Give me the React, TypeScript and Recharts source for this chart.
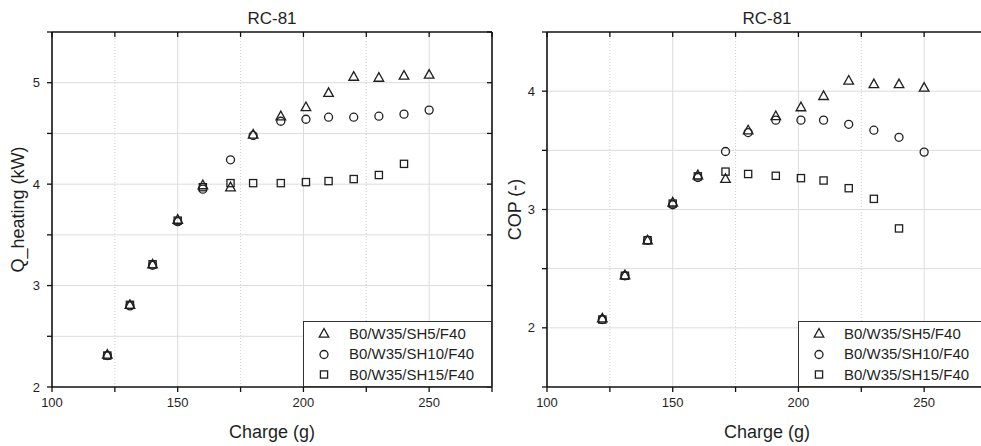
import { ScatterChart, Scatter, XAxis, YAxis, CartesianGrid, Legend } from 'recharts';

// charge values (g), shared by every series
const charge = [122, 131, 140, 150, 160, 171, 180, 191, 201, 210, 220, 230, 240, 250];

const seriesNames = ['B0/W35/SH5/F40', 'B0/W35/SH10/F40', 'B0/W35/SH15/F40'];

// Q_heating (kW)
const qSH5 = [2.32, 2.81, 3.21, 3.65, 3.99, 3.97, 4.49, 4.67, 4.76, 4.9, 5.06, 5.05, 5.07, 5.08];
const qSH10 = [2.31, 2.8, 3.2, 3.63, 3.95, 4.24, 4.48, 4.62, 4.64, 4.66, 4.66, 4.67, 4.69, 4.73];
const qSH15 = [2.31, 2.81, 3.21, 3.64, 3.97, 4.01, 4.01, 4.01, 4.02, 4.03, 4.05, 4.09, 4.2];

// COP (-)
const copSH5 = [2.08, 2.445, 2.74, 3.06, 3.29, 3.26, 3.67, 3.79, 3.865, 3.96, 4.09, 4.06, 4.06, 4.03];
const copSH10 = [2.07, 2.44, 2.74, 3.04, 3.27, 3.49, 3.65, 3.755, 3.755, 3.755, 3.72, 3.67, 3.61, 3.485];
const copSH15 = [2.07, 2.44, 2.74, 3.05, 3.28, 3.32, 3.3, 3.285, 3.265, 3.245, 3.18, 3.09, 2.84];

// axis ticks
const xTicks = [100, 125, 150, 175, 200, 225, 250, 275];
const xMajorGrid = [150, 200, 250];
const xMinorGrid = [125, 175, 225];
const qTicks = [2, 2.5, 3, 3.5, 4, 4.5, 5, 5.5];
const qGrid = [2.5, 3, 3.5, 4, 4.5, 5];
const copTicks = [1.5, 2, 2.5, 3, 3.5, 4, 4.5];
const copGrid = [2, 2.5, 3, 3.5, 4];

const INK = '#1f1f1f';
const FONT = '"Liberation Sans", Arial, sans-serif';
const axisLine = { stroke: '#111', strokeWidth: 1.6 };
const tickLine = { stroke: '#111', strokeWidth: 1.3 };

type Kind = 'triangle' | 'circle' | 'square';
const kinds: Kind[] = ['triangle', 'circle', 'square'];

const Marker = ({ kind, cx, cy }: { kind: Kind; cx: number; cy: number }) => {
    if (kind === 'triangle') {
        return (
            <polygon
                points={`${cx},${cy - 5} ${cx - 4.8},${cy + 3.6} ${cx + 4.8},${cy + 3.6}`}
                fill="none"
                stroke={INK}
                strokeWidth={1.3}
            />
        );
    }
    if (kind === 'circle') {
        return <circle cx={cx} cy={cy} r={4} fill="none" stroke={INK} strokeWidth={1.3} />;
    }
    return <rect x={cx - 3.6} y={cy - 3.6} width={7.2} height={7.2} fill="none" stroke={INK} strokeWidth={1.3} />;
};

const shapeFor = (kind: Kind) => (props: any) => <Marker kind={kind} cx={props.cx} cy={props.cy} />;

const toPoints = (values: number[]) => values.map((v, i) => ({ charge: charge[i], value: v }));

// boxed legend, in series order (recharts sorts its payload by name)
const BoxLegend = () => (
    <div
        style={{
            width: 189,
            height: 66,
            boxSizing: 'border-box',
            border: '1px solid #333',
            background: '#fff',
            paddingTop: 1,
            fontFamily: FONT,
            fontSize: 15,
            color: INK,
        }}
    >
        {seriesNames.map((name, i) => (
            <div key={name} style={{ display: 'flex', alignItems: 'center', height: 20.5, whiteSpace: 'nowrap' }}>
                <svg width={40} height={14} style={{ marginRight: 5 }}>
                    <Marker kind={kinds[i]} cx={20} cy={7.5} />
                </svg>
                <span>{name}</span>
            </div>
        ))}
    </div>
);

interface PanelProps {
    left: number;
    yLabel: string;
    yLabelOffset: number;
    yDomain: [number, number];
    yTicks: number[];
    yGrid: number[];
    series: number[][];
}

const Panel = ({ left, yLabel, yLabelOffset, yDomain, yTicks, yGrid, series }: PanelProps) => {
    const xFmt = (v: number) => (v % 50 === 0 && v < 275 ? String(v) : '');
    const yFmt = (v: number) => (Number.isInteger(v) ? String(v) : '');
    return (
        <div style={{ position: 'absolute', left, top: 0 }}>
            <ScatterChart width={495} height={446} margin={{ top: 31, right: 2, bottom: 0, left: 0 }}>
                <CartesianGrid horizontal={false} verticalValues={xMinorGrid} stroke="#cfcfcf" strokeDasharray="1 2" />
                <CartesianGrid horizontal={false} verticalValues={xMajorGrid} stroke="#dcdcdc" />
                <CartesianGrid vertical={false} horizontalValues={yGrid} stroke="#dcdcdc" />
                <XAxis
                    type="number"
                    dataKey="charge"
                    domain={[100, 275]}
                    ticks={xTicks}
                    tickFormatter={xFmt}
                    height={59}
                    axisLine={axisLine}
                    tickLine={tickLine}
                    tickSize={5}
                    tickMargin={6}
                    tick={{ fontSize: 13, fill: INK, fontFamily: FONT }}
                    label={{ value: 'Charge (g)', position: 'insideBottom', offset: 8, fontSize: 18, fill: INK, fontFamily: FONT }}
                />
                <XAxis
                    xAxisId="top"
                    orientation="top"
                    type="number"
                    dataKey="charge"
                    domain={[100, 275]}
                    ticks={xTicks}
                    tickFormatter={() => ''}
                    height={1}
                    axisLine={axisLine}
                    tickLine={tickLine}
                    tickSize={-5}
                    label={{ value: 'RC-81', position: 'top', offset: 7, fontSize: 17, fill: INK, fontFamily: FONT }}
                />
                <YAxis
                    type="number"
                    dataKey="value"
                    domain={yDomain}
                    ticks={yTicks}
                    tickFormatter={yFmt}
                    width={52}
                    axisLine={axisLine}
                    tickLine={tickLine}
                    tickSize={5}
                    tickMargin={7}
                    tick={{ fontSize: 13, fill: INK, fontFamily: FONT }}
                    label={{
                        value: yLabel,
                        angle: -90,
                        position: 'insideLeft',
                        offset: yLabelOffset,
                        fontSize: 18,
                        fill: INK,
                        fontFamily: FONT,
                        style: { textAnchor: 'middle' },
                    }}
                />
                <YAxis
                    yAxisId="right"
                    orientation="right"
                    type="number"
                    dataKey="value"
                    domain={yDomain}
                    ticks={yTicks}
                    tickFormatter={() => ''}
                    width={1}
                    axisLine={axisLine}
                    tickLine={tickLine}
                    tickSize={-5}
                />
                <Legend
                    layout="vertical"
                    align="center"
                    verticalAlign="middle"
                    content={BoxLegend}
                    wrapperStyle={{ left: 303, top: 321, width: 189, height: 66 }}
                />
                {series.map((values, i) => (
                    <Scatter
                        key={seriesNames[i]}
                        name={seriesNames[i]}
                        data={toPoints(values)}
                        shape={shapeFor(kinds[i])}
                        isAnimationActive={false}
                    />
                ))}
                {/* invisible copy so the frame axes on top and right get a domain */}
                <Scatter
                    xAxisId="top"
                    yAxisId="right"
                    data={toPoints(series[0])}
                    shape={() => <g />}
                    legendType="none"
                    isAnimationActive={false}
                />
            </ScatterChart>
        </div>
    );
};

export default function App() {
    return (
        <div
            style={{
                position: 'absolute',
                left: 0,
                top: 0,
                width: 981,
                height: 446,
                overflow: 'hidden',
                background: '#fff',
                fontFamily: FONT,
            }}
        >
            <Panel
                left={0}
                yLabel="Q_heating (kW)"
                yLabelOffset={18}
                yDomain={[2, 5.5]}
                yTicks={qTicks}
                yGrid={qGrid}
                series={[qSH5, qSH10, qSH15]}
            />
            <Panel
                left={495}
                yLabel="COP (-)"
                yLabelOffset={20}
                yDomain={[1.5, 4.5]}
                yTicks={copTicks}
                yGrid={copGrid}
                series={[copSH5, copSH10, copSH15]}
            />
        </div>
    );
}
